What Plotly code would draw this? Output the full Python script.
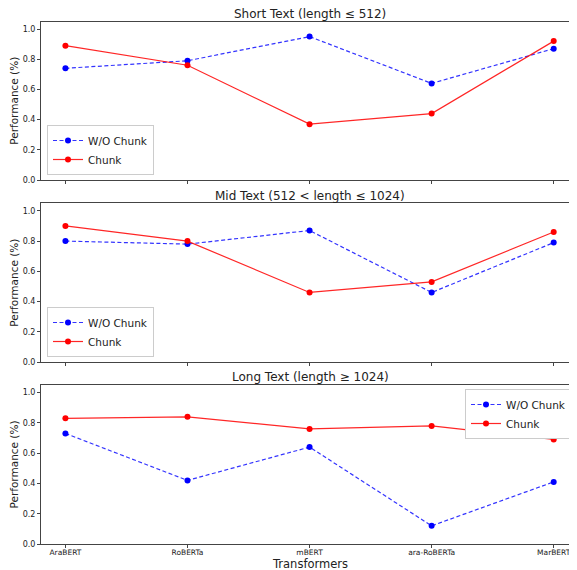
import plotly.graph_objects as go

models = ["AraBERT", "RoBERTa", "mBERT", "ara-RoBERTa", "MarBERT"]
titles = ["Short Text (length ≤ 512)", "Mid Text (512 < length ≤ 1024)", "Long Text (length ≥ 1024)"]
wo_short = [0.74, 0.79, 0.95, 0.64, 0.87]
chunk_short = [0.89, 0.76, 0.37, 0.44, 0.92]
wo_mid = [0.80, 0.78, 0.87, 0.46, 0.79]
chunk_mid = [0.90, 0.80, 0.46, 0.53, 0.86]
wo_long = [0.73, 0.42, 0.64, 0.12, 0.41]
chunk_long = [0.83, 0.84, 0.76, 0.78, 0.69]
y_ticks = [0.0, 0.2, 0.4, 0.6, 0.8, 1.0]

OFF = 8  # page body margin
W, H = 577 - OFF, 570 - OFF
ML, MR, MT, MB = 41 - OFF, 0, 21 - OFF, 570 - 544
PW, PH = W - ML - MR, H - MT - MB

def px_x(px):
    return (px - OFF - ML) / PW

def px_y(py):
    return (H - MB - (py - OFF)) / PH

panels = [(21.5, 180), (203.3, 362), (385, 544)]
series = [(wo_short, chunk_short), (wo_mid, chunk_mid), (wo_long, chunk_long)]

fig = go.Figure()
FONT = "DejaVu Sans"
for i, ((top, bot), (wo, ch)) in enumerate(zip(panels, series)):
    n = i + 1
    xa = "x" if n == 1 else f"x{n}"
    ya = "y" if n == 1 else f"y{n}"
    leg = "legend" if n == 1 else f"legend{n}"
    fig.add_trace(go.Scatter(x=models, y=wo, mode="lines+markers", name="W/O Chunk",
                             line=dict(color="rgba(0,0,255,0.8)", width=1.2, dash="4px,2.5px"),
                             marker=dict(color="blue", size=6),
                             xaxis=xa, yaxis=ya, legend=leg))
    fig.add_trace(go.Scatter(x=models, y=ch, mode="lines+markers", name="Chunk",
                             line=dict(color="rgba(255,0,0,0.85)", width=1.2),
                             marker=dict(color="red", size=6),
                             xaxis=xa, yaxis=ya, legend=leg))
    axis_common = dict(showline=True, linecolor="#444", linewidth=1, mirror=True,
                       ticks="outside", ticklen=3, tickcolor="#444", showgrid=False,
                       zeroline=False, automargin=False)
    fig.update_layout(**{
        ("xaxis" if n == 1 else f"xaxis{n}"): dict(
            type="category", range=[-0.2, -0.2 + (PW + 1) / 122.3], domain=[0, 1],
            anchor=ya, showticklabels=(n == 3), ticklabelstandoff=-2,
            tickfont=dict(family=FONT, size=7.5, color="#222"),
            **axis_common),
        ("yaxis" if n == 1 else f"yaxis{n}"): dict(
            range=[0, 1.05], domain=[px_y(bot), px_y(top)], anchor=xa,
            tickvals=y_ticks, tickformat=".1f",
            tickfont=dict(family=FONT, size=8, color="#222"),
            title=dict(text="Performance (%)", font=dict(family=FONT, size=10.5, color="#222"), standoff=4),
            **axis_common),
    })
    fig.add_annotation(text=titles[i], x=px_x(310), y=px_y(top - 7.5), xref="paper", yref="paper",
                       xanchor="center", yanchor="middle", showarrow=False,
                       font=dict(family=FONT, size=12, color="#222"))

fig.add_annotation(text="Transformers", x=px_x(310), y=px_y(563.5), xref="paper", yref="paper",
                   xanchor="center", yanchor="middle", showarrow=False,
                   font=dict(family=FONT, size=11.5, color="#222"))

leg_common = dict(bgcolor="white", bordercolor="#ccc", borderwidth=1,
                  font=dict(family=FONT, size=10.5, color="#222"), tracegroupgap=0,
                  itemwidth=30)
fig.update_layout(
    legend=dict(x=px_x(47), y=px_y(175), xanchor="left", yanchor="bottom", **leg_common),
    legend2=dict(x=px_x(47), y=px_y(357), xanchor="left", yanchor="bottom", **leg_common),
    legend3=dict(x=px_x(572), y=px_y(389), xanchor="right", yanchor="top", **leg_common),
    width=W, height=H, margin=dict(l=ML, r=MR, t=MT, b=MB),
    paper_bgcolor="white", plot_bgcolor="white", showlegend=True,
)
fig.write_html("out.html")
